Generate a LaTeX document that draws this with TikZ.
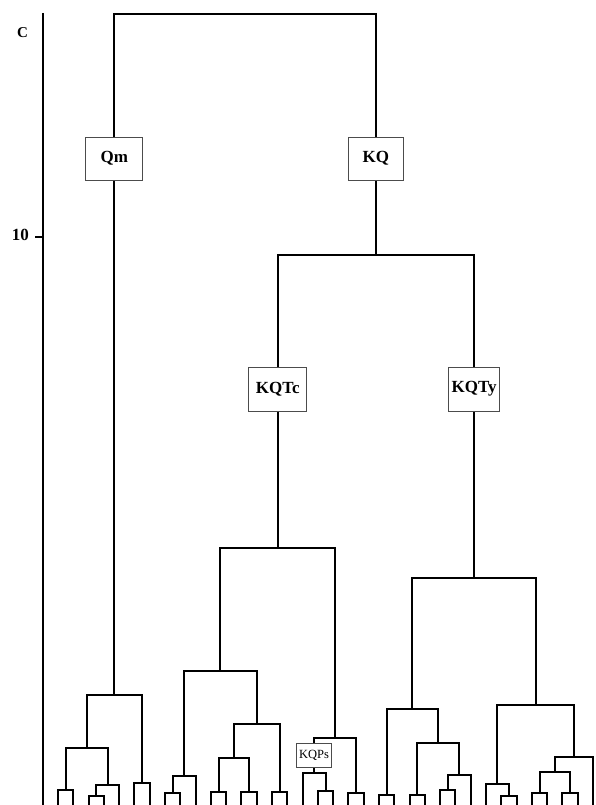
\documentclass[tikz,border=0pt]{standalone}
\usepackage{fontspec}
\setmainfont{Liberation Serif}
\usetikzlibrary{calc}

\tikzset{
  dline/.style={line width=2pt, draw=black, line join=miter},
  axisline/.style={line width=2pt, draw=black},
  taxon/.style={draw=black!70, line width=0.8pt, fill=white, inner sep=0pt,
                font=\bfseries\fontsize{17}{19}\selectfont},
  smalltaxon/.style={taxon, font=\fontsize{12.5}{14}\selectfont},
  axlab/.style={inner sep=0pt, font=\bfseries\fontsize{15}{17}\selectfont}
}

% \clade{name}{left child}{right child}{height}: joins two children
% with a bracket at the given height (y measured downwards)
\newcommand\clade[4]{%
  \path let \p1=(#2), \p2=(#3) in coordinate (#1) at ({0.5*(\x1+\x2)},{-#4pt});
  \draw[dline] (#2) |- (#1) -| (#3);
}

\begin{document}
\begin{tikzpicture}[x=1pt,y=-1pt]
  \fill[white] (0,0) rectangle (595,805);
  \useasboundingbox (0,0) rectangle (595,805);

  % scale axis
  \coordinate (axtop) at (43,13);
  \coordinate (axbot) at (43,805);
  \coordinate (t10) at (43,237);
  \coordinate (t10l) at (35,237);
  \draw[axisline] (axtop) -- (axbot);
  \draw[axisline] (t10l) -- (t10);
  \node[axlab] (cl) at (22.5,32.5) {C};
  \node[axlab, font=\bfseries\fontsize{17}{19}\selectfont] (ten) at (20.5,234.5) {10};

  % leaves, evenly spaced along the bottom
  \foreach \i in {0,...,35} {
    \coordinate (L\i) at ({58+15.286*\i},805);
  }

  % Qm group
  \clade{a01}{L0}{L1}{790}
  \clade{a23}{L2}{L3}{796}
  \clade{a234}{a23}{L4}{785}
  \clade{a0to4}{a01}{a234}{748}
  \clade{a56}{L5}{L6}{783}
  \clade{q}{a0to4}{a56}{695}

  % KQTc group
  \clade{b78}{L7}{L8}{793}
  \clade{b789}{b78}{L9}{776}
  \clade{b1011}{L10}{L11}{792}
  \clade{b1213}{L12}{L13}{792}
  \clade{b10to13}{b1011}{b1213}{758}
  \clade{b1415}{L14}{L15}{792}
  \clade{b10to15}{b10to13}{b1415}{724}
  \clade{b7to15}{b789}{b10to15}{671}
  \clade{b1718}{L17}{L18}{791}
  \clade{b16to18}{L16}{b1718}{773}
  \clade{b1920}{L19}{L20}{793}
  \clade{b16to20}{b16to18}{b1920}{738}
  \clade{tc}{b7to15}{b16to20}{548}

  % KQTy group
  \clade{c2122}{L21}{L22}{795}
  \clade{c2324}{L23}{L24}{795}
  \clade{c2526}{L25}{L26}{790}
  \clade{c25to27}{c2526}{L27}{775}
  \clade{c23to27}{c2324}{c25to27}{743}
  \clade{c21to27}{c2122}{c23to27}{709}
  \clade{c2930}{L29}{L30}{796}
  \clade{c28to30}{L28}{c2930}{784}
  \clade{c3132}{L31}{L32}{793}
  \clade{c3334}{L33}{L34}{793}
  \clade{c31to34}{c3132}{c3334}{772}
  \clade{c31to35}{c31to34}{L35}{757}
  \clade{c28to35}{c28to30}{c31to35}{705}
  \clade{ty}{c21to27}{c28to35}{578}

  % upper joins
  \clade{kq}{tc}{ty}{255}
  \clade{root}{q}{kq}{14}

  % group labels sitting on the branches
  \node[taxon, minimum width=57pt, minimum height=43pt] (Qm) at (q |- 0,158.5) {Qm};
  \node[taxon, minimum width=55pt, minimum height=43pt] (KQ) at (kq |- 0,158.5) {KQ};
  \node[taxon, minimum width=58pt, minimum height=44pt] (KQTc) at (tc |- 0,389) {KQTc};
  \node[taxon, minimum width=51pt, minimum height=44pt] (KQTy) at (ty |- 0,389) {KQTy};
  \node[smalltaxon, minimum width=35pt, minimum height=24pt] (KQPs) at (b16to18 |- 0,755) {KQPs};
\end{tikzpicture}
\end{document}
